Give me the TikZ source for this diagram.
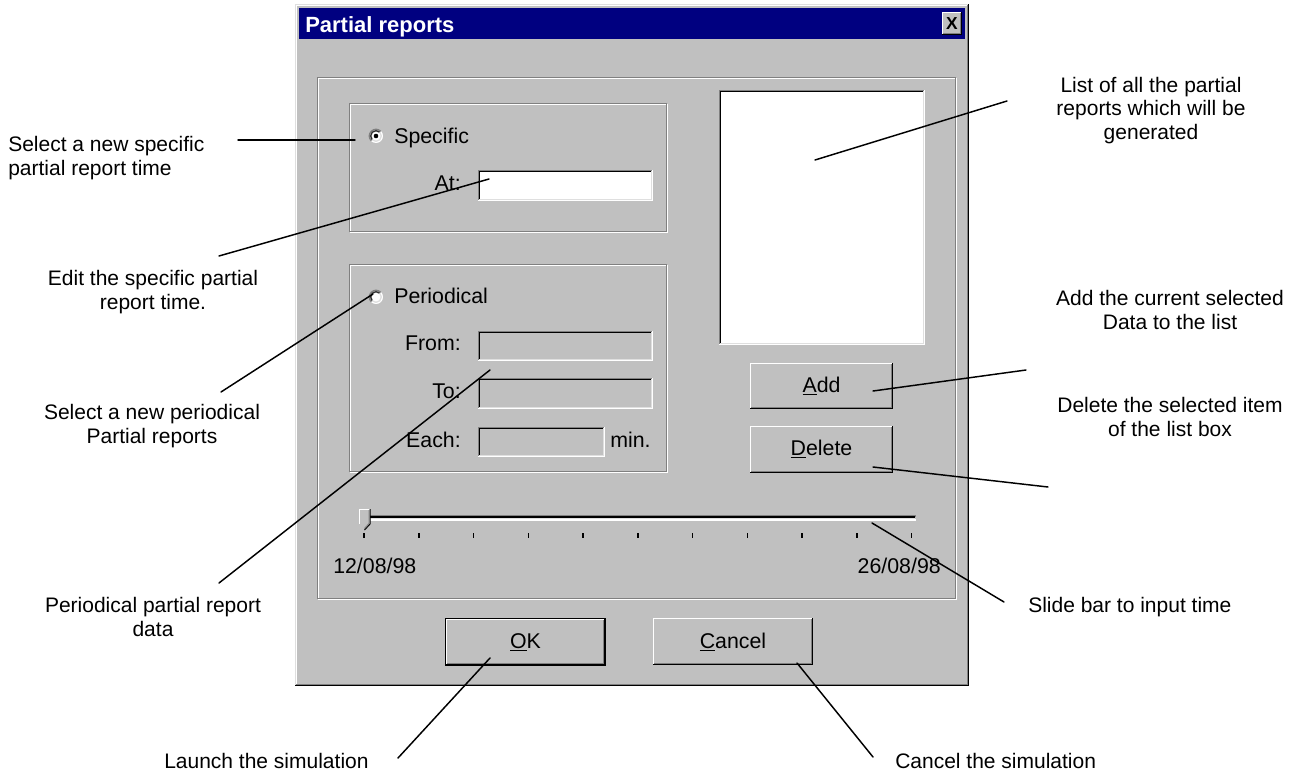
\documentclass[tikz,border=0pt]{standalone}
\usepackage{fontspec}
\setmainfont{Liberation Sans}
\definecolor{wgray}{HTML}{C0C0C0}
\definecolor{wdark}{HTML}{808080}
\definecolor{wlight}{HTML}{DFDFDF}
\definecolor{wnavy}{HTML}{000080}
\newcommand\annfont{\fontsize{15.75}{17.6}\selectfont}
\newcommand\dlgfont{\fontsize{16}{19}\selectfont}
\newcommand\ttlfont{\fontsize{16.5}{19}\selectfont\bfseries}
\tikzset{
  px/.style={line width=0.75pt},
  ann/.style={font=\annfont, align=center, inner sep=0pt},
  lbl/.style={font=\dlgfont, inner sep=0pt},
  lead/.style={line width=1.1pt, black, line cap=round},
}
% raised box
\newcommand\wraise[4]{%
  \fill[wgray] (#1,#2) rectangle (#3,#4);
  \draw[px,white] (#1+0.5,#4-1) |- (#3-1,#2+0.5);
  \draw[px,black] (#1,#4-0.5) -| (#3-0.5,#2);
  \draw[px,wdark] (#1+1,#4-1.5) -| (#3-1.5,#2+1);
}
% sunken box
\newcommand\wsunk[5]{%
  \fill[#5] (#1,#2) rectangle (#3,#4);
  \draw[px,wdark] (#1+0.5,#4-1) |- (#3-1,#2+0.5);
  \draw[px,black] (#1+1.5,#4-2) |- (#3-2,#2+1.5);
  \draw[px,white] (#1,#4-0.5) -| (#3-0.5,#2);
  \draw[px,wlight] (#1+1,#4-1.5) -| (#3-1.5,#2+1);
}
% etched frame
\newcommand\wetch[4]{%
  \draw[px,white] (#1+1.5,#2+1.5) rectangle (#3+0.5,#4+0.5);
  \draw[px,wdark] (#1+0.5,#2+0.5) rectangle (#3-0.5,#4-0.5);
}
% radio button
\newcommand\wradio[2]{%
  \fill[white] (#1,#2) circle (7);
  \draw[line width=1.2pt,wdark] (#1,#2) ++(135:6.6) arc[start angle=135,end angle=315,radius=6.6];
  \draw[line width=1pt,black!80] (#1,#2) ++(135:5.3) arc[start angle=135,end angle=315,radius=5.3];
  \draw[line width=1pt,wlight] (#1,#2) ++(315:5.3) arc[start angle=-45,end angle=135,radius=5.3];
}
\begin{document}
\begin{tikzpicture}[x=0.75pt,y=-0.75pt]
\useasboundingbox (0,0) rectangle (1302,771);
\fill[white] (0,0) rectangle (1302,771);

% ---------- dialog window ----------
\fill[wgray] (295,4) rectangle (969,686);
\draw[px,wlight] (295.5,686) |- (969,4.5);
\draw[px,white] (296.5,685) |- (968,5.5);
\draw[px,black] (295,685.5) -| (968.5,4);
\draw[px,wdark] (296,684.5) -| (967.5,5);
% title bar
\fill[wnavy] (299,8) rectangle (965,39);
\node[font=\ttlfont, text=white, anchor=base west, inner sep=0pt] (title) at (305,32) {Partial reports};
\wraise{942}{12}{962}{35}
\node[font=\fontsize{13}{14}\selectfont\bfseries, inner sep=0pt] (closex) at (952,23.5) {X};

% main etched frame
\wetch{317}{77}{956}{599}

% Specific group
\wetch{349}{103}{667}{232}
\wradio{376}{136}
\fill[black] (376,136) circle (2.3);
\node[lbl, anchor=base west] (lspec) at (394,143) {Specific};
\node[lbl, anchor=base east] (lat) at (461,190) {At:};
\wsunk{478}{170}{653}{201}{white}

% Periodical group
\wetch{349}{264}{667}{472}
\wradio{376}{297}
\node[lbl, anchor=base west] (lper) at (394,303) {Periodical};
\node[lbl, anchor=base east] (lfrom) at (461,350) {From:};
\wsunk{478}{331}{653}{361}{wgray}
\node[lbl, anchor=base east] (lto) at (461,398) {To:};
\wsunk{478}{378}{653}{409}{wgray}
\node[lbl, anchor=base east] (leach) at (461,447) {Each:};
\wsunk{478}{427}{605}{457}{wgray}
\node[lbl, anchor=base west] (lmin) at (610,447) {min.};

% list box
\wsunk{719}{90}{925}{345}{white}

% Add / Delete buttons
\wraise{750}{363}{893}{409}
\node[lbl, anchor=base] (badd) at (821.5,392) {\underline{A}dd};
\wraise{750}{426}{893}{473}
\node[lbl, anchor=base] (bdel) at (821.5,455) {\underline{D}elete};

% slider
\fill[wdark] (363,515) rectangle (916,517);
\fill[black] (364,516) rectangle (915,517.5);
\fill[white] (363,519) rectangle (916,521);
\fill[wlight] (364,518) rectangle (915,519);
\foreach \i in {0,...,10} {
  \fill[black] (363.3+\i*54.75,533) rectangle (364.8+\i*54.75,538);
}
\fill[wgray] (359,509) -- (370,509) -- (370,524) -- (364.5,530) -- (359,524) -- cycle;
\draw[px,white] (359.5,524) -- (359.5,509.5) -- (369.5,509.5);
\draw[px,black] (370,509) -- (370,524) -- (364.5,530);
\draw[px,wdark] (369,510) -- (369,523.5) -- (364.5,528.5);
\node[lbl, anchor=base west] (d1) at (333,573) {12/08/98};
\node[lbl, anchor=base east] (d2) at (941,573) {26/08/98};

% OK / Cancel
\fill[black] (445,618) rectangle (606,666);
\wraise{446}{619}{605}{665}
\node[lbl, anchor=base] (bok) at (525.5,648) {\underline{O}K};
\wraise{653}{618}{813}{665}
\node[lbl, anchor=base] (bcan) at (733,648) {\underline{C}ancel};

% ---------- annotations (base = last line) ----------
\node[ann, align=left, anchor=base west] (aspec) at (8,175) {Select a new specific\\partial report time};
\node[ann, anchor=base] (aedit) at (153,309) {Edit the specific partial\\report time.};
\node[ann, anchor=base] (aper) at (152,443) {Select a new periodical\\Partial reports};
\node[ann, anchor=base] (adata) at (153,636) {Periodical partial report\\data};
\node[ann, anchor=base] (alist) at (1151,139) {List of all the partial\\reports which will be\\generated};
\node[ann, anchor=base] (aadd) at (1170,329) {Add the current selected\\Data to the list};
\node[ann, anchor=base] (adel) at (1170,436) {Delete the selected item\\of the list box};
\node[ann, anchor=base west] (aslide) at (1028,612) {Slide bar to input time};
\node[ann, anchor=base west] (aok) at (164,768) {Launch the simulation};
\node[ann, anchor=base west] (acan) at (895,768) {Cancel the simulation};

% connector end points
\coordinate (sSpec) at (238,140);  \coordinate (tSpec) at (355,140);
\coordinate (sEdit) at (219,256);  \coordinate (tEdit) at (489,179);
\coordinate (sPer)  at (221,392);  \coordinate (tPer)  at (373,294);
\coordinate (sData) at (219,583);  \coordinate (tData) at (490,370);
\coordinate (sList) at (1007,101); \coordinate (tList) at (815,160);
\coordinate (sAdd)  at (1026,370); \coordinate (tAdd)  at (873,391);
\coordinate (sDel)  at (1048,487); \coordinate (tDel)  at (873,467);
\coordinate (sSl)   at (1004,602); \coordinate (tSl)   at (872,523);
\coordinate (sOK)   at (398,758);  \coordinate (tOK)   at (490,658);
\coordinate (sCan)  at (873,757);  \coordinate (tCan)  at (797,663);

\draw[lead] (sSpec) -- (tSpec);
\draw[lead] (sEdit) -- (tEdit);
\draw[lead] (sPer) -- (tPer);
\draw[lead] (sData) -- (tData);
\draw[lead] (sList) -- (tList);
\draw[lead] (sAdd) -- (tAdd);
\draw[lead] (sDel) -- (tDel);
\draw[lead] (sSl) -- (tSl);
\draw[lead] (sOK) -- (tOK);
\draw[lead] (sCan) -- (tCan);
\end{tikzpicture}
\end{document}
